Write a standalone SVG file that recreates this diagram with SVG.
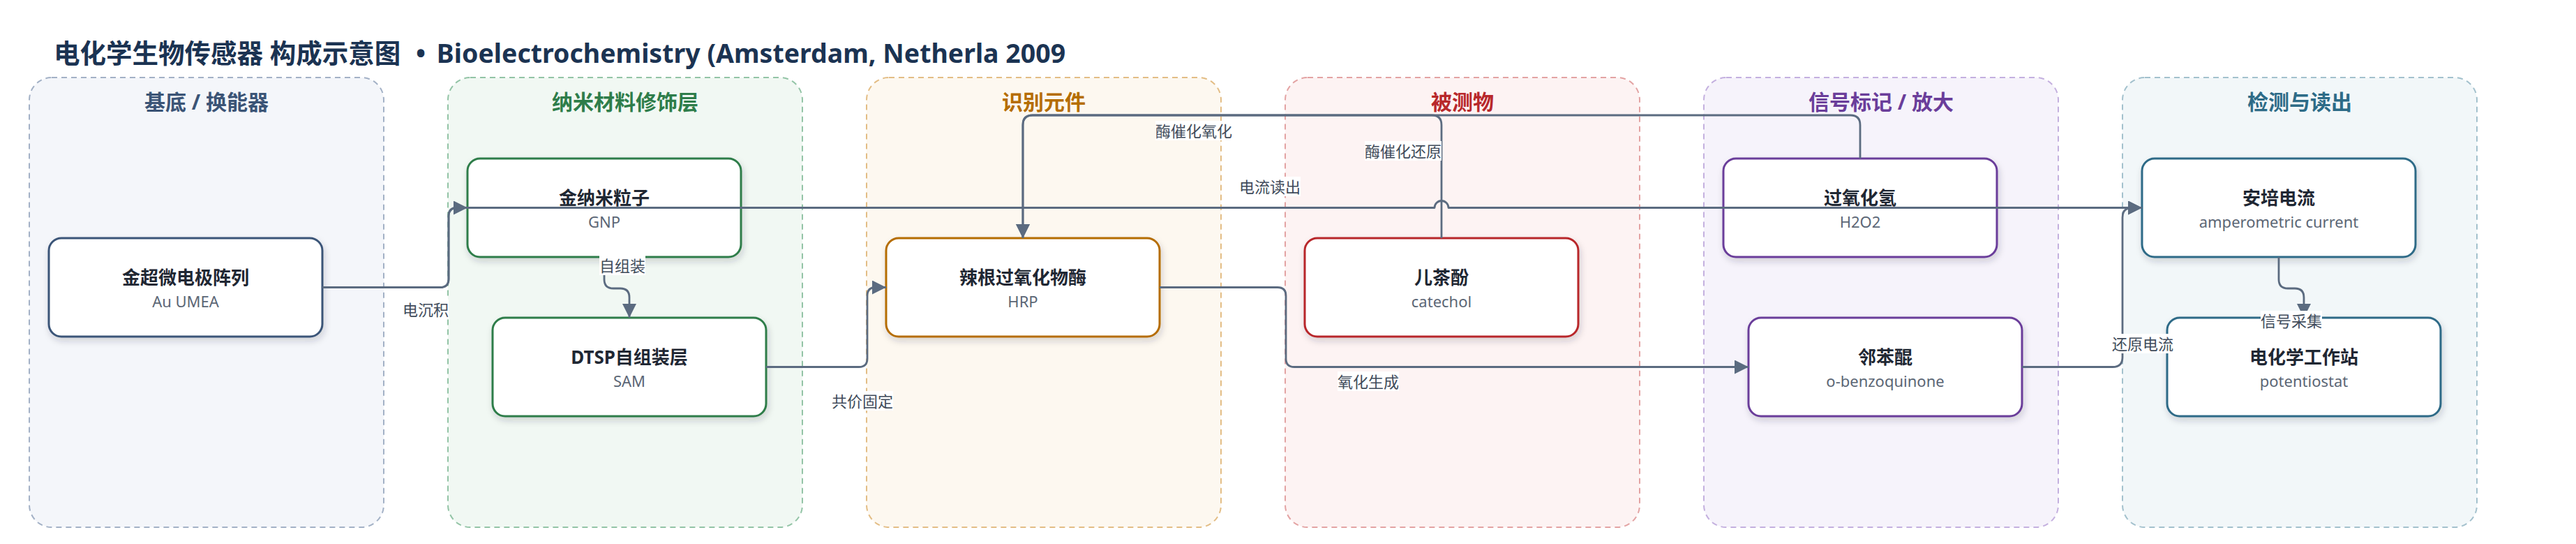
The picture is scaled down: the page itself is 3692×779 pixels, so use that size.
<svg xmlns="http://www.w3.org/2000/svg" width="3692" height="779" viewBox="0 0 3692 779">
<defs>
<style>
text{font-family:'Noto Sans','Noto Sans CJK SC',sans-serif}
.title{font-size:37.5px;font-weight:700;fill:#1b3352}
.gbox{stroke-width:2;stroke-dasharray:8 6}
.gt{font-size:30px;font-weight:700;text-anchor:middle}
.nbox{fill:#ffffff;stroke-width:3;filter:url(#sh)}
.nt{font-size:26px;font-weight:700;fill:#1f2733;text-anchor:middle}
.ns{font-size:22px;fill:#5b6675;text-anchor:middle}
.e{fill:none;stroke:#5b6b80;stroke-width:2.8;stroke-linejoin:round}
.lb{fill:#ffffff}
.lt{font-size:22px;fill:#404b5a;text-anchor:middle;dominant-baseline:central}
</style>
<filter id="sh" x="-10%" y="-20%" width="125%" height="150%">
<feDropShadow dx="2" dy="5" stdDeviation="5" flood-color="#1f2a3a" flood-opacity="0.18"/>
</filter>
<marker id="ar" markerUnits="userSpaceOnUse" markerWidth="20" markerHeight="20" refX="20" refY="10" orient="auto">
<path d="M0,0 L20,10 L0,20 z" fill="#5b6b80"/>
</marker>
</defs>
<rect width="3692" height="779" fill="#ffffff"/>
<text class="title" x="77" y="90">电化学生物传感器 构成示意图 <tspan dx="12">•</tspan><tspan dx="6"> Bioelectrochemistry (Amsterdam, Netherla 2009</tspan></text>

<g id="group-substrate">
<rect class="gbox" x="42" y="111" width="508" height="644" rx="32" fill="#f4f6fa" stroke="#a3b1c6"/>
<text class="gt" x="296" y="157" fill="#3b5476">基底 / 换能器</text>
</g>
<g id="group-nano">
<rect class="gbox" x="642" y="111" width="508" height="644" rx="32" fill="#f1f8f3" stroke="#93c4a6"/>
<text class="gt" x="896" y="157" fill="#2e7d4a">纳米材料修饰层</text>
</g>
<g id="group-recog">
<rect class="gbox" x="1242" y="111" width="508" height="644" rx="32" fill="#fdf8f0" stroke="#e3bd85"/>
<text class="gt" x="1496" y="157" fill="#b56d00">识别元件</text>
</g>
<g id="group-analyte">
<rect class="gbox" x="1842" y="111" width="508" height="644" rx="32" fill="#fdf3f3" stroke="#e3a3a3"/>
<text class="gt" x="2096" y="157" fill="#b8282b">被测物</text>
</g>
<g id="group-signal">
<rect class="gbox" x="2442" y="111" width="508" height="644" rx="32" fill="#f6f3fb" stroke="#c4b0df"/>
<text class="gt" x="2696" y="157" fill="#6a3d9a">信号标记 / 放大</text>
</g>
<g id="group-detect">
<rect class="gbox" x="3042" y="111" width="508" height="644" rx="32" fill="#f2f7f9" stroke="#a3c1cd"/>
<text class="gt" x="3296" y="157" fill="#2d6b87">检测与读出</text>
</g>

<g id="node-au">
<rect class="nbox" x="70" y="341" width="392" height="141" rx="18" stroke="#3b5578"/>
<text class="nt" x="266" y="407">金超微电极阵列</text>
<text class="ns" x="266" y="440">Au UMEA</text>
</g>
<g id="node-gnp">
<rect class="nbox" x="670" y="227" width="392" height="141" rx="18" stroke="#2e7d4a"/>
<text class="nt" x="866" y="293">金纳米粒子</text>
<text class="ns" x="866" y="326">GNP</text>
</g>
<g id="node-dtsp">
<rect class="nbox" x="706" y="455" width="392" height="141" rx="18" stroke="#2e7d4a"/>
<text class="nt" x="902" y="521">DTSP自组装层</text>
<text class="ns" x="902" y="554">SAM</text>
</g>
<g id="node-hrp">
<rect class="nbox" x="1270" y="341" width="392" height="141" rx="18" stroke="#b56d00"/>
<text class="nt" x="1466" y="407">辣根过氧化物酶</text>
<text class="ns" x="1466" y="440">HRP</text>
</g>
<g id="node-catechol">
<rect class="nbox" x="1870" y="341" width="392" height="141" rx="18" stroke="#b8282b"/>
<text class="nt" x="2066" y="407">儿茶酚</text>
<text class="ns" x="2066" y="440">catechol</text>
</g>
<g id="node-h2o2">
<rect class="nbox" x="2470" y="227" width="392" height="141" rx="18" stroke="#6a3d9a"/>
<text class="nt" x="2666" y="293">过氧化氢</text>
<text class="ns" x="2666" y="326">H2O2</text>
</g>
<g id="node-obq">
<rect class="nbox" x="2506" y="455" width="392" height="141" rx="18" stroke="#6a3d9a"/>
<text class="nt" x="2702" y="521">邻苯醌</text>
<text class="ns" x="2702" y="554">o-benzoquinone</text>
</g>
<g id="node-amp">
<rect class="nbox" x="3070" y="227" width="392" height="141" rx="18" stroke="#2d6b87"/>
<text class="nt" x="3266" y="293">安培电流</text>
<text class="ns" x="3266" y="326">amperometric current</text>
</g>
<g id="node-pot">
<rect class="nbox" x="3106" y="455" width="392" height="141" rx="18" stroke="#2d6b87"/>
<text class="nt" x="3302" y="521">电化学工作站</text>
<text class="ns" x="3302" y="554">potentiostat</text>
</g>

<g id="connectors">
<path class="e" marker-end="url(#ar)" d="M462,411.5 H631 Q643,411.5 643,399.5 V309.5 Q643,297.5 655,297.5 H670"/>
<path class="e" marker-end="url(#ar)" d="M462,411.5 H631 Q643,411.5 643,399.5 V309.5 Q643,297.5 655,297.5 H2056 A10,10 0 0 1 2076,297.5 H3070"/>
<path class="e" marker-end="url(#ar)" d="M866,368 V400 Q866,413 879,413 H889 Q902,413 902,426 V455"/>
<path class="e" marker-end="url(#ar)" d="M1098,525.5 H1231 Q1243,525.5 1243,513.5 V423.5 Q1243,411.5 1255,411.5 H1270"/>
<path class="e" marker-end="url(#ar)" d="M1662,411.5 H1831 Q1843,411.5 1843,423.5 V513.5 Q1843,525.5 1855,525.5 H2506"/>
<path class="e" marker-end="url(#ar)" d="M2066,341 V179 Q2066,165 2052,165 H1480 Q1466,165 1466,179 V341"/>
<path class="e" marker-end="url(#ar)" d="M2666,227 V179 Q2666,165 2652,165 H1480 Q1466,165 1466,179 V341"/>
<path class="e" marker-end="url(#ar)" d="M2898,525.5 H3028 Q3042,525.5 3042,511.5 V311.5 Q3042,297.5 3056,297.5 H3070"/>
<path class="e" marker-end="url(#ar)" d="M3266,368 V400 Q3266,413 3279,413 H3289 Q3302,413 3302,426 V455"/>
<g id="labels">
<rect class="lb" x="577" y="429" width="66" height="28"/><text class="lt" x="610" y="443">电沉积</text>
<rect class="lb" x="1776" y="253" width="88" height="28"/><text class="lt" x="1820" y="267">电流读出</text>
<rect class="lb" x="859" y="366" width="66" height="28"/><text class="lt" x="892" y="380">自组装</text>
<rect class="lb" x="1192" y="560" width="88" height="28"/><text class="lt" x="1236" y="574">共价固定</text>
<rect class="lb" x="1917" y="532" width="88" height="28"/><text class="lt" x="1961" y="546">氧化生成</text>
<rect class="lb" x="1656" y="173" width="110" height="28"/><text class="lt" x="1711" y="187">酶催化氧化</text>
<rect class="lb" x="1956" y="202" width="110" height="28"/><text class="lt" x="2011" y="216">酶催化还原</text>
<rect class="lb" x="3027" y="478" width="88" height="28"/><text class="lt" x="3071" y="492">还原电流</text>
<rect class="lb" x="3240" y="445" width="88" height="28"/><text class="lt" x="3284" y="459">信号采集</text>
</g>
</g>
</svg>
